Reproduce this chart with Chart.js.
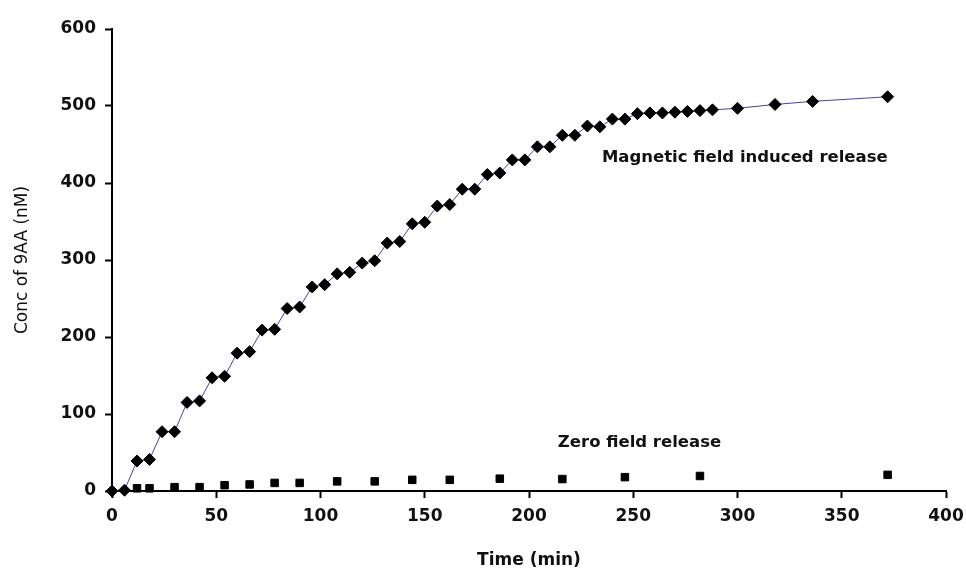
<!DOCTYPE html>
<html>
<head>
<meta charset="utf-8">
<script src="https://cdn.jsdelivr.net/npm/chart.js@4.4.1/dist/chart.umd.min.js"></script>
<style>
  html, body { margin: 0; padding: 0; background: #ffffff; }
  #wrap { width: 966px; height: 578px; position: relative; }
</style>
</head>
<body>
<div id="wrap"><canvas id="c" width="966" height="578"></canvas></div>
<script>
// Magnetic field induced release: time (min) and concentration (nM)
const magneticTimes = [0, 6, 12, 18, 24, 30, 36, 42, 48, 54, 60, 66, 72, 78, 84, 90, 96, 102, 108, 114,
  120, 126, 132, 138, 144, 150, 156, 162, 168, 174, 180, 186, 192, 198, 204, 210, 216, 222, 228, 234,
  240, 246, 252, 258, 264, 270, 276, 282, 288, 300, 318, 336, 372];
const magneticValues = [0, 1, 39, 41, 77, 77, 115, 117, 147, 149, 179, 181, 209, 210, 237, 239, 265, 268, 282, 284,
  296, 299, 322, 324, 347, 349, 370, 372, 392, 392, 411, 413, 430, 430, 447, 447, 462, 462, 474, 473,
  483, 483, 490, 491, 491, 492, 493, 494, 495, 497, 502, 506, 512];

// Zero field release
const zeroTimes = [12, 18, 30, 42, 54, 66, 78, 90, 108, 126, 144, 162, 186, 216, 246, 282, 372];
const zeroValues = [3.5, 3.5, 5, 5, 7.5, 8.5, 10.5, 10.5, 12.5, 12.5, 14.5, 14.5, 16, 15.5, 18, 19.5, 21];

// Axis ticks
const xTicks = [0, 50, 100, 150, 200, 250, 300, 350, 400];
const yTicks = [0, 100, 200, 300, 400, 500, 600];

const seriesLabels = ['Magnetic field induced release', 'Zero field release'];
const xTitle = 'Time (min)';
const yTitle = 'Conc of 9AA (nM)';

const toPoints = (xs, ys) => xs.map((x, i) => ({ x: x, y: ys[i] }));

const seriesTextPlugin = {
  id: 'seriesText',
  afterDatasetsDraw(chart, args, opts) {
    const ctx = chart.ctx;
    const xs = chart.scales.x, ys = chart.scales.y;
    ctx.save();
    ctx.fillStyle = '#111111';
    ctx.font = opts.font;
    ctx.textAlign = 'center';
    ctx.textBaseline = 'middle';
    opts.items.forEach(it => {
      ctx.fillText(it.text, xs.getPixelForValue(it.x), ys.getPixelForValue(it.y));
    });
    ctx.restore();
  }
};

const tickFont = { family: 'DejaVu Sans', size: 17, weight: 'bold' };

new Chart(document.getElementById('c'), {
  type: 'scatter',
  data: {
    datasets: [
      {
        label: seriesLabels[0],
        data: toPoints(magneticTimes, magneticValues),
        showLine: true,
        borderColor: '#4444a4',
        borderWidth: 1,
        tension: 0,
        pointStyle: 'rectRot',
        pointRadius: 6,
        pointBackgroundColor: '#000000',
        pointBorderColor: '#000000',
        pointBorderWidth: 1,
        clip: false
      },
      {
        label: seriesLabels[1],
        data: toPoints(zeroTimes, zeroValues),
        showLine: false,
        pointStyle: 'rect',
        pointRadius: 5.3,
        pointBackgroundColor: '#000000',
        pointBorderColor: '#000000',
        pointBorderWidth: 1,
        clip: false
      }
    ]
  },
  options: {
    responsive: false,
    animation: false,
    devicePixelRatio: 1,
    layout: { padding: { left: 0, right: 20, top: 29, bottom: 0 } },
    plugins: {
      legend: { display: false },
      tooltip: { enabled: false },
      seriesText: {
        font: 'bold 16.5px "DejaVu Sans"',
        items: [
          { text: seriesLabels[0], x: 303.5, y: 433 },
          { text: seriesLabels[1], x: 253, y: 63 }
        ]
      }
    },
    scales: {
      x: {
        type: 'linear',
        min: 0,
        max: 400,
        afterBuildTicks: (s) => { s.ticks = xTicks.map(v => ({ value: v })); },
        afterFit: (s) => { s.height = 87; s.paddingRight = 0; s.paddingLeft = 0; },
        ticks: { color: '#111111', font: tickFont, padding: 8, maxRotation: 0, autoSkip: false },
        grid: { display: true, drawOnChartArea: false, drawTicks: true, tickLength: 7, tickWidth: 2, tickColor: '#000000' },
        border: { display: true, color: '#000000', width: 2 },
        title: {
          display: true, text: xTitle, color: '#111111',
          font: { family: 'DejaVu Sans', size: 17, weight: 'bold' },
          padding: { top: 0, bottom: 7 }
        }
      },
      y: {
        type: 'linear',
        min: 0,
        max: 600,
        afterBuildTicks: (s) => { s.ticks = yTicks.map(v => ({ value: v })); },
        afterFit: (s) => { s.width = 112; s.paddingTop = 0; s.paddingBottom = 0; },
        ticks: { color: '#111111', font: tickFont, padding: 9, autoSkip: false },
        grid: { display: true, drawOnChartArea: false, drawTicks: true, tickLength: 7, tickWidth: 2, tickColor: '#000000' },
        border: { display: true, color: '#000000', width: 2 },
        title: {
          display: true, text: yTitle, color: '#111111',
          font: { family: 'DejaVu Sans', size: 17, weight: 'normal' },
          padding: { top: 12, bottom: 0 }
        }
      }
    }
  },
  plugins: [seriesTextPlugin]
});
</script>
</body>
</html>
